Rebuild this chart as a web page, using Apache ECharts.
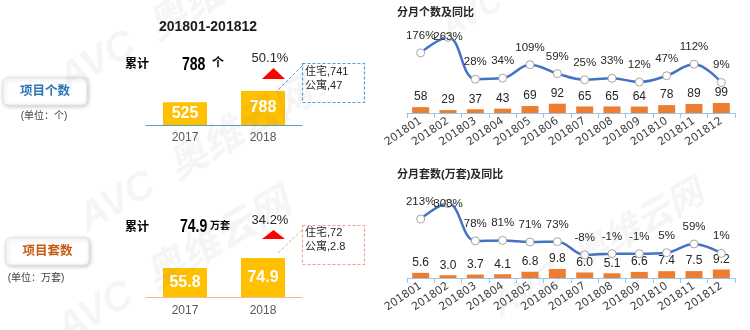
<!DOCTYPE html>
<html><head><meta charset="utf-8">
<script src="https://cdn.jsdelivr.net/npm/echarts@6/dist/echarts.min.js"></script>
<style>html,body{margin:0;padding:0;background:#fff;}#c{width:750px;height:330px;}</style>
</head><body><div id="c"></div>
<script>
// ---- data ----
const periodTitle = '201801-201812';
const years = ['2017', '2018'];
const projectCount = [525, 788];
const unitCount = [55.8, 74.9];
const countGrowth = '50.1%';
const unitGrowth = '34.2%';
const countBreakdown = [['住宅', '741'], ['公寓', '47']];
const unitBreakdown = [['住宅', '72'], ['公寓', '2.8']];
const months = ['201801','201802','201803','201804','201805','201806','201807','201808','201809','201810','201811','201812'];
const monthlyCount = [58, 29, 37, 43, 69, 92, 65, 65, 64, 78, 89, 99];
const monthlyCountYoY = [176, 263, 28, 34, 109, 59, 25, 33, 12, 47, 112, 9];
const monthlyUnits = [5.6, 3.0, 3.7, 4.1, 6.8, 9.8, 6.0, 5.1, 6.6, 7.4, 7.5, 9.2];
const monthlyUnitsYoY = [213, 308, 78, 81, 71, 73, -8, -1, -1, 5, 59, 1];

const NUM = "'Liberation Sans','Noto Sans CJK SC',sans-serif";
const chart = echarts.init(document.getElementById('c'), null, {renderer: 'canvas'});

const WMC = 'rgba(120,120,120,0.07)';
function wm(x, y, s) {
  return {
    type: 'text', x: x, y: y, rotation: Math.PI / 6, z: 50, silent: true,
    style: {text: 'AVC  奥维云网', font: 'italic bold ' + s + 'px ' + NUM, fill: WMC, textVerticalAlign: 'bottom'}
  };
}

function txt(x, y, text, font, fill, align, sx) {
  return {type: 'text', x: x, y: y, z: 20, scaleX: sx || 1, style: {text: text, font: font, fill: fill || '#262626', textAlign: align || 'left', textVerticalAlign: 'middle'}};
}

const graphics = [
  wm(72, 100, 40), wm(92, 240, 40), wm(70, 350, 40), wm(452, 45, 32), wm(505, 325, 36),
  txt(208, 27, periodTitle, 'bold 14px ' + NUM, '#1a1a1a', 'center'),
  // left top panel
  {type: 'rect', z: 15, shape: {x: 3, y: 78, width: 84, height: 27, r: 5}, style: {fill: '#fff', stroke: '#e4e4e4', lineWidth: 1, shadowBlur: 4, shadowColor: 'rgba(0,0,0,0.22)', shadowOffsetX: 1, shadowOffsetY: 1}},
  txt(45, 92, '项目个数', 'bold 12.5px ' + NUM, '#2E75B6', 'center'),
  txt(44, 116, '(单位：个)', '10px ' + NUM, '#404040', 'center'),
  txt(125, 65, '累计', 'bold 12px ' + NUM, '#000'),
  txt(182, 65, String(projectCount[1]), 'bold 18px ' + NUM, '#000', 'left', 0.78),
  txt(212, 64, '个', 'bold 12px ' + NUM, '#000'),
  txt(270, 58, countGrowth, '13px ' + NUM, '#262626', 'center'),
  {type: 'polygon', z: 15, shape: {points: [[262, 79], [285, 79], [273.5, 68]]}, style: {fill: '#FF0000'}},
  {type: 'rect', z: 15, shape: {x: 302.5, y: 63.5, width: 62, height: 39}, style: {fill: 'none', stroke: '#4F9ED8', lineWidth: 1.2, lineDash: [3, 2]}},
  {type: 'line', z: 15, shape: {x1: 302, y1: 66, x2: 277, y2: 91}, style: {stroke: '#4F9ED8', lineWidth: 1, lineDash: [3, 2]}},
  txt(305, 72, countBreakdown[0][0] + ',' + countBreakdown[0][1], '11px ' + NUM, '#262626'),
  txt(305, 86, countBreakdown[1][0] + ',' + countBreakdown[1][1], '11px ' + NUM, '#262626'),
  // left bottom panel
  {type: 'rect', z: 15, shape: {x: 6, y: 238, width: 83, height: 27, r: 5}, style: {fill: '#fff', stroke: '#e4e4e4', lineWidth: 1, shadowBlur: 4, shadowColor: 'rgba(0,0,0,0.22)', shadowOffsetX: 1, shadowOffsetY: 1}},
  txt(47.5, 252, '项目套数', 'bold 12.5px ' + NUM, '#C55A11', 'center'),
  txt(36, 278, '(单位：万套)', '10px ' + NUM, '#404040', 'center'),
  txt(125, 228, '累计', 'bold 12px ' + NUM, '#000'),
  txt(180, 227, String(unitCount[1]), 'bold 18px ' + NUM, '#000', 'left', 0.78),
  txt(210, 226, '万套', 'bold 10px ' + NUM, '#000'),
  txt(270, 220, unitGrowth, '13px ' + NUM, '#262626', 'center'),
  {type: 'polygon', z: 15, shape: {points: [[262, 239], [285, 239], [273.5, 230]]}, style: {fill: '#FF0000'}},
  {type: 'rect', z: 15, shape: {x: 302.5, y: 225.5, width: 62, height: 39}, style: {fill: 'none', stroke: '#E8A593', lineWidth: 1.2, lineDash: [3, 2]}},
  {type: 'line', z: 15, shape: {x1: 302, y1: 230, x2: 277, y2: 254}, style: {stroke: '#E8A593', lineWidth: 1, lineDash: [3, 2]}},
  txt(305, 233, unitBreakdown[0][0] + ',' + unitBreakdown[0][1], '11px ' + NUM, '#262626'),
  txt(305, 247, unitBreakdown[1][0] + ',' + unitBreakdown[1][1], '11px ' + NUM, '#262626'),
  // right titles
  txt(397, 13, '分月个数及同比', 'bold 11px ' + NUM, '#262626'),
  txt(397, 175, '分月套数(万套)及同比', 'bold 11px ' + NUM, '#262626')
];

function monthAxis(grid) {
  return {
    type: 'category', gridIndex: grid, data: months,
    axisLine: {lineStyle: {color: '#9DC3E6', width: 1.2}},
    axisTick: {show: true, length: 5, lineStyle: {color: '#9DC3E6'}},
    axisLabel: {rotate: 34, interval: 0, margin: 7, fontSize: 11, color: '#404040', fontFamily: "'DejaVu Sans',sans-serif"}
  };
}
function yearAxis(grid, color, margin) {
  return {
    type: 'category', gridIndex: grid, data: years,
    axisLine: {lineStyle: {color: color, width: 1.2}},
    axisTick: {show: false},
    axisLabel: {margin: margin, fontSize: 12, color: '#595959', fontFamily: NUM}
  };
}
function hiddenY(grid, min, max) {
  return {type: 'value', gridIndex: grid, min: min, max: max, show: false, splitLine: {show: false}};
}
function lineSeries(xi, yi, data, bigIdx) {
  return {
    type: 'line', xAxisIndex: xi, yAxisIndex: yi, z: 5,
    data: data.map((v, i) => i === bigIdx ? {value: v, label: {position: 'inside'}} : v),
    smooth: 0.4, symbol: 'circle', symbolSize: 8, showAllSymbol: true,
    lineStyle: {color: '#4472C4', width: 2.5},
    itemStyle: {color: '#fff', borderColor: '#A6A6A6', borderWidth: 1},
    label: {show: true, position: 'top', distance: 7, formatter: '{c}%', fontSize: 11.5, color: '#262626', fontFamily: NUM}
  };
}

chart.setOption({
  animation: false,
  backgroundColor: '#fff',
  graphic: graphics,
  grid: [
    {left: 146, width: 156, top: 80, height: 45},
    {left: 146, width: 156, top: 247, height: 50},
    {left: 407, width: 328, top: 30, height: 83},
    {left: 407, width: 328, top: 195, height: 83}
  ],
  xAxis: [yearAxis(0, '#4BA3C8', 7), yearAxis(1, '#F4B6A0', 8), monthAxis(2), monthAxis(3)],
  yAxis: [hiddenY(0, 0, 1043), hiddenY(1, 0, 96), hiddenY(2, 0, 822), hiddenY(2, -162, 304), hiddenY(3, 0, 90), hiddenY(3, -151, 361)],
  series: [
    {type: 'bar', xAxisIndex: 0, yAxisIndex: 0, data: projectCount, barWidth: 44, itemStyle: {color: '#FFC000'},
     label: {show: true, position: 'inside', color: '#fff', fontWeight: 'bold', fontSize: 16, fontFamily: NUM}},
    {type: 'bar', xAxisIndex: 1, yAxisIndex: 1, data: unitCount, barWidth: 44, itemStyle: {color: '#FFC000'},
     label: {show: true, position: 'inside', color: '#fff', fontWeight: 'bold', fontSize: 16, fontFamily: NUM}},
    {type: 'bar', xAxisIndex: 2, yAxisIndex: 2, data: monthlyCount, barWidth: 17, itemStyle: {color: '#ED7D31'},
     label: {show: true, position: 'top', distance: 4, fontSize: 12, color: '#262626', fontFamily: NUM}},
    lineSeries(2, 3, monthlyCountYoY, 1),
    {type: 'bar', xAxisIndex: 3, yAxisIndex: 4, data: monthlyUnits, barWidth: 17, itemStyle: {color: '#ED7D31'},
     label: {show: true, position: 'top', distance: 4, fontSize: 12, color: '#262626', fontFamily: NUM,
             formatter: p => p.value.toFixed(1)}},
    lineSeries(3, 5, monthlyUnitsYoY, 1)
  ]
});
</script></body></html>
